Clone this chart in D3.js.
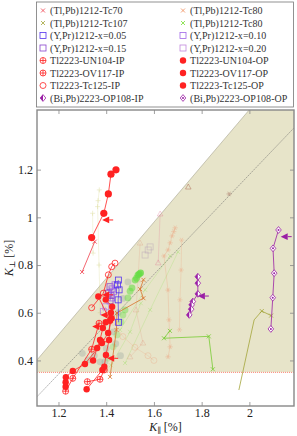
<!DOCTYPE html>
<html><head><meta charset="utf-8">
<script src="https://cdn.jsdelivr.net/npm/d3@7"></script>
<style>
html,body{margin:0;padding:0;background:#fff;}
svg{display:block;font-family:"Liberation Serif","DejaVu Serif",serif;}
</style></head><body>
<svg id="chart" width="297" height="436"></svg>
<script>
// K_perp vs K_par, anisotropy of the penetration depth, several cuprates.
// Values, in percent.

const xTicks = [1.2, 1.4, 1.6, 1.8, 2.0];
const yTicks = [0.4, 0.6, 0.8, 1.0, 1.2];

// guide lines
const boundUpper = [[1.110, 0.402], [1.999, 1.450]];
const diagLine = [[1.110, 0.248], [2.187, 1.375]];
const floorLevel = 0.35;

// faded background runs
const fadedSalmon1 = [[1.689, 0.956], [1.683, 0.940], [1.676, 0.922], [1.668, 0.893], [1.659, 0.863], [1.642, 0.838], [1.659, 0.695], [1.663, 0.570], [1.668, 0.457], [1.659, 0.415]];
const fadedSalmon2 = [[1.716, 0.905], [1.714, 0.779], [1.709, 0.654], [1.707, 0.528]];
const fadedSalmon3 = [[1.542, 0.892], [1.533, 0.738], [1.525, 0.612], [1.554, 0.473], [1.500, 0.415]];
const fadedSalmon4 = [[1.430, 0.560], [1.470, 0.500], [1.520, 0.455], [1.575, 0.420], [1.600, 0.400]];
const fadedPink = [[1.626, 1.014], [1.618, 0.809]];
const fadedBrownTri = [[1.744, 1.127]];
const fadedBrownStar = [[1.915, 1.098]];
const fadedLavender = [[1.584, 0.876], [1.576, 0.863], [1.563, 0.842]];
const fadedGreen1 = [[1.479, 0.389], [1.584, 0.612], [1.701, 0.855]];
const fadedGreen2 = [[1.458, 0.528], [1.563, 0.696], [1.668, 0.838]];
const fadedGreen3 = [[1.420, 0.380], [1.500, 0.520], [1.545, 0.640]];
const fadedYellow1 = [[1.371, 1.115], [1.366, 1.070], [1.364, 1.045], [1.370, 0.800], [1.375, 0.600]];
const fadedYellow2 = [[1.343, 1.017], [1.345, 0.850]];
const fadedGrey = [[1.491, 0.729], [1.470, 0.660], [1.450, 0.600], [1.430, 0.520], [1.400, 0.450], [1.374, 0.394], [1.324, 0.402], [1.300, 0.430], [1.350, 0.420], [1.395, 0.395], [1.440, 0.470], [1.460, 0.420]];
const greenCloud = [[1.544, 0.767], [1.538, 0.762], [1.533, 0.758], [1.527, 0.745], [1.521, 0.737], [1.508, 0.704], [1.500, 0.690], [1.491, 0.662], [1.479, 0.612], [1.470, 0.590], [1.462, 0.561], [1.445, 0.507], [1.429, 0.457], [1.408, 0.410]];

// main series
const tlpbTc70 = [[1.352, 0.898], [1.299, 0.771]];
const tlpbTc80o = [[1.556, 0.738], [1.542, 0.699], [1.556, 0.661], [1.445, 0.599], [1.443, 0.528], [1.416, 0.331]];
const tlpbTc107Line = [[1.956, 0.276], [2.020, 0.570], [2.052, 0.607], [2.091, 0.588]];
const tlpbTc107 = [[2.052, 0.607], [2.091, 0.588]];
const tlpbTc80g = [[1.667, 0.524], [1.642, 0.493], [1.830, 0.501], [1.847, 0.363]];
const ypr05 = [[1.451, 0.737], [1.447, 0.717], [1.454, 0.696], [1.450, 0.654], [1.452, 0.560]];
const ypr10 = [[1.437, 0.717], [1.424, 0.700], [1.430, 0.688], [1.423, 0.662]];
const ypr15 = [[1.416, 0.709], [1.409, 0.682], [1.420, 0.672], [1.416, 0.650]];
const ypr20 = [[1.388, 0.605], [1.398, 0.625]];
const un104IP = [[1.230, 0.271], [1.260, 0.325], [1.339, 0.447], [1.370, 0.556]];
const ov117IP = [[1.321, 0.311], [1.374, 0.321], [1.392, 0.360]];
const tc125IP = [[1.437, 0.808], [1.423, 0.793], [1.409, 0.759], [1.388, 0.682], [1.339, 0.621]];
const un104OP = [[1.230, 0.290], [1.230, 0.309], [1.231, 0.330], [1.260, 0.356], [1.311, 0.385], [1.382, 0.473], [1.408, 0.515], [1.423, 0.577]];
const ov117OP = [[1.318, 0.279], [1.384, 0.360], [1.392, 0.374], [1.399, 0.423], [1.412, 0.486], [1.416, 0.566], [1.367, 0.668]];
const tc125OP = [[1.441, 1.199], [1.420, 1.181], [1.409, 1.098], [1.390, 1.017], [1.339, 0.915]];
const tc125OPlow = [[1.345, 0.400], [1.362, 0.452], [1.374, 0.486], [1.386, 0.536], [1.398, 0.560], [1.420, 0.600], [1.425, 0.625], [1.398, 0.655]];
const bi2223IP = [[1.784, 0.751], [1.784, 0.724], [1.784, 0.679], [1.763, 0.647], [1.758, 0.633], [1.756, 0.615], [1.748, 0.591]];
const bi2223OP = [[2.122, 0.947], [2.099, 0.870], [2.104, 0.766], [2.098, 0.663], [2.090, 0.532]];
const redArrows = [[1.402, 0.989], [1.402, 0.675], [1.360, 0.542], [1.381, 0.478], [1.423, 0.409], [1.395, 0.590]];
const purpleArrows = [[1.803, 0.670], [2.150, 0.919]];

const legendItems = [
  ['(Tl,Pb)1212-Tc70', 'x', '#f0404c'], ['(Tl,Pb)1212-Tc80', 'x', '#f08a55'],
  ['(Tl,Pb)1212-Tc107', 'x', '#a3a53a'], ['(Tl,Pb)1212-Tc80', 'x', '#77dd33'],
  ['(Y,Pr)1212-x=0.05', 'square', '#5533ee'], ['(Y,Pr)1212-x=0.10', 'square', '#a066e8'],
  ['(Y,Pr)1212-x=0.15', 'square', '#8844cc'], ['(Y,Pr)1212-x=0.20', 'square', '#c088dd'],
  ['Tl2223-UN104-IP', 'oplus', '#f22'], ['Tl2223-UN104-OP', 'dot', '#f22'],
  ['Tl2223-OV117-IP', 'oplus', '#f22'], ['Tl2223-OV117-OP', 'dot', '#f22'],
  ['Tl2223-Tc125-IP', 'ocirc', '#f22'], ['Tl2223-Tc125-OP', 'dot', '#f22'],
  ['(Bi,Pb)2223-OP108-IP', 'halfdiamond', '#9a1fa5'], ['(Bi,Pb)2223-OP108-OP', 'dotdiamond', '#9a1fa5'],
];

const P = { l: 37, r: 294, t: 110, b: 406 };
const svg = d3.select('#chart');
const x = d3.scaleLinear().domain([1.110, 2.187]).range([P.l, P.r]);
const y = d3.scaleLinear().domain([0.209, 1.450]).range([P.b, P.t]);
const line = d3.line().x(d => x(d[0])).y(d => y(d[1]));

function mark(g, kind, cx, cy, col, op) {
  const m = g.append('g').attr('transform', `translate(${cx},${cy})`).attr('opacity', op == null ? 1 : op);
  const sw = 0.8;
  if (kind === 'x') {
    m.append('path').attr('d', 'M-2,-2L2,2M-2,2L2,-2').attr('stroke', col).attr('stroke-width', sw);
  } else if (kind === 'plus') {
    m.append('path').attr('d', 'M-2.5,0L2.5,0M0,-2.5L0,2.5').attr('stroke', col).attr('stroke-width', sw);
  } else if (kind === 'star') {
    m.append('path').attr('d', 'M-2.6,0L2.6,0M-1.3,-2.2L1.3,2.2M-1.3,2.2L1.3,-2.2').attr('stroke', col).attr('stroke-width', sw);
  } else if (kind === 'square') {
    m.append('rect').attr('x', -3).attr('y', -3).attr('width', 6).attr('height', 6)
      .attr('fill', 'none').attr('stroke', col).attr('stroke-width', sw);
  } else if (kind === 'tri') {
    m.append('path').attr('d', 'M0,-3L2.8,2L-2.8,2Z').attr('fill', 'none').attr('stroke', col).attr('stroke-width', sw);
  } else if (kind === 'oplus') {
    m.append('circle').attr('r', 3).attr('fill', 'none').attr('stroke', col).attr('stroke-width', sw);
    m.append('path').attr('d', 'M-3,0L3,0M0,-3L0,3').attr('stroke', col).attr('stroke-width', sw);
  } else if (kind === 'ocirc') {
    m.append('circle').attr('r', 3).attr('fill', 'none').attr('stroke', col).attr('stroke-width', sw);
  } else if (kind === 'dot') {
    m.append('circle').attr('r', 3.2).attr('fill', col);
  } else if (kind === 'bigdot') {
    m.append('circle').attr('r', 3.6).attr('fill', col);
  } else if (kind === 'blob') {
    m.append('circle').attr('r', 3.4).attr('fill', col);
  } else if (kind === 'halfdiamond') {
    m.append('path').attr('d', 'M0,-3.4L2.8,0L0,3.4L-2.8,0Z').attr('fill', '#fff').attr('stroke', col).attr('stroke-width', sw);
    m.append('path').attr('d', 'M0,-3.4L-2.8,0L0,3.4Z').attr('fill', col);
  } else if (kind === 'dotdiamond') {
    m.append('path').attr('d', 'M0,-3.4L2.8,0L0,3.4L-2.8,0Z').attr('fill', '#fff').attr('stroke', col).attr('stroke-width', sw);
    m.append('circle').attr('r', 1).attr('fill', col);
  } else if (kind === 'arrow') {
    m.append('path').attr('d', 'M-4.5,0L2.5,-3.4L2.5,3.4Z').attr('fill', col);
    m.append('path').attr('d', 'M2.5,0L6.5,0').attr('stroke', col).attr('stroke-width', 1);
  }
}

// clip + shading
svg.append('clipPath').attr('id', 'pc').append('rect')
  .attr('x', P.l).attr('y', P.t).attr('width', P.r - P.l).attr('height', P.b - P.t);
const plot = svg.append('g').attr('clip-path', 'url(#pc)');

const shade = [[x.domain()[0], floorLevel], boundUpper[0], boundUpper[1], [x.domain()[1], y.domain()[1]], [x.domain()[1], floorLevel]];
plot.append('path').attr('d', line(shade) + 'Z').attr('fill', '#e7e4c9');
plot.append('path').attr('d', line(boundUpper)).attr('stroke', '#a8a590').attr('stroke-width', 0.6).attr('fill', 'none');
plot.append('path').attr('d', line(diagLine)).attr('stroke', '#666').attr('stroke-width', 0.5)
  .attr('stroke-dasharray', '2,0.8').attr('fill', 'none');
plot.append('path').attr('d', line([[x.domain()[0], floorLevel], [x.domain()[1], floorLevel]]))
  .attr('stroke', '#ff6a5a').attr('stroke-width', 0.8).attr('stroke-dasharray', '1,1').attr('fill', 'none');

function series(pts, col, kind, op, lw, linePts) {
  const g = plot.append('g');
  const lp = linePts || pts;
  if (lw > 0 && lp.length > 1)
    g.append('path').attr('d', line(lp)).attr('fill', 'none').attr('stroke', col)
      .attr('stroke-width', lw).attr('opacity', op);
  if (kind) pts.forEach(p => mark(g, kind, x(p[0]), y(p[1]), col, op));
}

// faded background
series(fadedYellow1, '#c8c860', 'plus', 0.35, 0.6);
series(fadedYellow2, '#c8c860', 'plus', 0.35, 0.6);
series(fadedGreen1, '#77dd33', 'x', 0.3, 0.6);
series(fadedGreen2, '#77dd33', 'x', 0.3, 0.6);
series(fadedGreen3, '#77dd33', 'x', 0.3, 0.6);
series(fadedSalmon1, '#f0906a', 'star', 0.4, 0.6);
series(fadedSalmon2, '#f0906a', 'star', 0.35, 0.6);
series(fadedSalmon3, '#e0907a', 'tri', 0.35, 0.6);
series(fadedSalmon4, '#f0906a', 'ocirc', 0.3, 0.6);
series(fadedPink, '#e07090', 'tri', 0.4, 0.6);
series(fadedBrownTri, '#a05040', 'tri', 0.5, 0);
series(fadedBrownStar, '#a06050', 'star', 0.5, 0);
series(fadedLavender, '#a080b0', 'square', 0.35, 0);
series(fadedGrey, '#8a9a98', 'blob', 0.3, 0);
greenCloud.forEach((p, i) => mark(plot, 'blob', x(p[0]), y(p[1]), '#66dd44', 0.8 - i * 0.045));

// main series
series(tlpbTc70, '#f0404c', 'x', 1, 0.8);
series(tlpbTc80o, '#d8742c', 'x', 1, 0.8);
series(tlpbTc107, '#a3a53a', 'x', 1, 0.8, tlpbTc107Line);
series(tlpbTc80g, '#77cc33', 'x', 1, 0.8);
series(ypr15, '#8844cc', 'square', 1, 0.6);
series(ypr10, '#a066e8', 'square', 1, 0.6);
series(ypr05, '#5533ee', 'square', 1, 0.7);
series(ypr20, '#c088dd', 'square', 1, 0.6);
series(un104IP, '#f22', 'oplus', 1, 0.8);
series(ov117IP, '#f22', 'oplus', 1, 0.8);
series(tc125IP, '#f22', 'ocirc', 1, 0.8);
series(un104OP, '#f22', 'dot', 1, 0.8);
series(ov117OP, '#f22', 'dot', 1, 0.8);
series(tc125OPlow, '#f22', 'dot', 1, 0.8);
series(tc125OP, '#f22', 'bigdot', 1, 0.8);
series(bi2223IP, '#9a1fa5', 'halfdiamond', 1, 0.8);
series(bi2223OP, '#9a1fa5', 'dotdiamond', 1, 0.8);
redArrows.forEach(p => mark(plot, 'arrow', x(p[0]), y(p[1]), '#f22', 1));
purpleArrows.forEach(p => mark(plot, 'arrow', x(p[0]), y(p[1]), '#9a1fa5', 1));

// axes, ticks inward on all four sides
const fmt = d => d === 1 || d === 2 ? String(d) : d3.format('.1f')(d);
const axCol = '#888';
function styleAxis(g) {
  g.select('.domain').remove();
  g.selectAll('line').attr('stroke', axCol).attr('stroke-width', 0.8);
  g.selectAll('text').attr('fill', '#222').style('font-size', '12px')
    .style('font-family', '"Liberation Serif","DejaVu Serif",serif');
}
svg.append('g').attr('transform', `translate(0,${P.b})`)
  .call(d3.axisBottom(x).tickValues(xTicks).tickFormat(fmt).tickSize(-4).tickPadding(2.5)).call(styleAxis);
svg.append('g').attr('transform', `translate(0,${P.t})`)
  .call(d3.axisTop(x).tickValues(xTicks).tickFormat('').tickSize(-4)).call(styleAxis);
svg.append('g').attr('transform', `translate(${P.l},0)`)
  .call(d3.axisLeft(y).tickValues(yTicks).tickFormat(fmt).tickSize(-4).tickPadding(4)).call(styleAxis);
svg.append('g').attr('transform', `translate(${P.r},0)`)
  .call(d3.axisRight(y).tickValues(yTicks).tickFormat('').tickSize(-4)).call(styleAxis);
svg.append('rect').attr('x', P.l).attr('y', P.t).attr('width', P.r - P.l).attr('height', P.b - P.t)
  .attr('fill', 'none').attr('stroke', axCol).attr('stroke-width', 1.4);

// axis titles
const xt = svg.append('text').attr('x', (P.l + P.r) / 2).attr('y', 431).attr('text-anchor', 'middle')
  .style('font-size', '12px').attr('fill', '#222');
xt.append('tspan').attr('font-style', 'italic').text('K');
xt.append('tspan').attr('dy', 1.5).style('font-size', '8px').text('∥');
xt.append('tspan').attr('dy', -1.5).text(' [%]');
const yt = svg.append('text').attr('transform', `translate(13,${(P.t + P.b) / 2}) rotate(-90)`)
  .attr('text-anchor', 'middle').style('font-size', '12px').attr('fill', '#222');
yt.append('tspan').attr('font-style', 'italic').text('K');
yt.append('tspan').attr('dy', 2).style('font-size', '8px').text('⊥');
yt.append('tspan').attr('dy', -2).text(' [%]');

// legend
const lg = svg.append('g');
lg.append('rect').attr('x', 36.5).attr('y', 2).attr('width', 257).attr('height', 105)
  .attr('fill', '#fff').attr('stroke', '#777').attr('stroke-width', 0.8);
legendItems.forEach((it, i) => {
  const col = i % 2, row = Math.floor(i / 2);
  const mx = col ? 183 : 43, ty = 10.5 + row * 12.5;
  mark(lg, it[1], mx, ty, it[2], 1);
  lg.append('text').attr('x', mx + 7).attr('y', ty).attr('dy', '0.35em')
    .style('font-size', '10px').style('letter-spacing', '0.05px').attr('fill', '#333').text(it[0]);
});
</script>
</body></html>
